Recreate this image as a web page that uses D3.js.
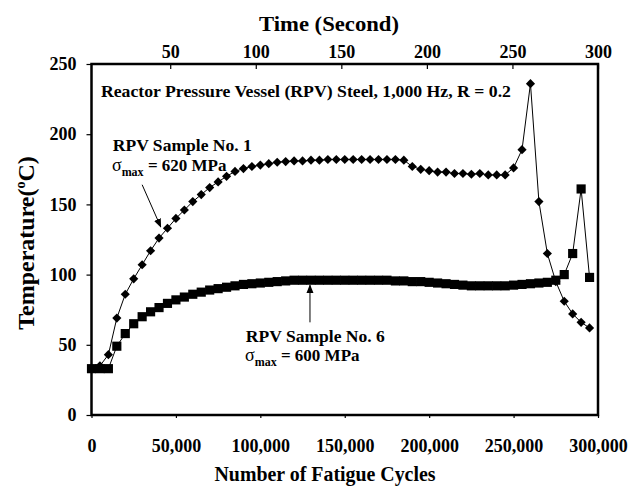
<!DOCTYPE html>
<html>
<head>
  <meta charset="UTF-8">
  <title>RPV Steel - Temperature vs Fatigue Cycles</title>
  <script src="https://cdn.jsdelivr.net/npm/d3@7"></script>
  <style>
    body { margin: 0; background: #fff; }
    svg { font-family: "Liberation Serif", "Times New Roman", serif; font-weight: bold; }
    .axis path { display: none; }
    .axis line { stroke: #000; stroke-width: 1.2; }
    .axis text { font-size: 18px; font-weight: bold; fill: #000; font-family: "Liberation Serif", serif; }
    .note { font-size: 17px; fill: #000; }
  </style>
</head>
<body>
  <svg width="632" height="488"></svg>

  <script>
    // fatigue cycles at each reading
    const cycles = [
      0, 5000, 10000, 15000, 20000, 25000, 30000, 35000, 40000, 45000,
      50000, 55000, 60000, 65000, 70000, 75000, 80000, 85000, 90000, 95000,
      100000, 105000, 110000, 115000, 120000, 125000, 130000, 135000, 140000, 145000,
      150000, 155000, 160000, 165000, 170000, 175000, 180000, 185000, 190000, 195000,
      200000, 205000, 210000, 215000, 220000, 225000, 230000, 235000, 240000, 245000,
      250000, 255000, 260000, 265000, 270000, 275000, 280000, 285000, 290000, 295000
    ];

    // RPV Sample No. 1, sigma max 620 MPa (diamonds)
    const sample1 = [
      33, 35, 43, 69, 86, 97, 107, 117, 126, 133,
      140, 146, 152, 157, 162, 166, 170, 173.5, 175.5, 177,
      178, 179, 180, 180.5, 181, 181, 181.5, 181.5, 182, 182,
      182, 182, 182, 182, 182, 182, 182, 181.5, 177, 175,
      174, 173, 173, 172, 172, 171.5, 172, 171, 171, 171,
      176, 189, 236, 152, 115, 95, 81, 72, 66, 62
    ];

    // RPV Sample No. 6, sigma max 600 MPa (squares)
    const sample6 = [
      33, 33, 33, 49, 58, 65, 70, 73.5, 76.5, 79.5,
      82, 84, 86, 87.5, 89, 90, 91, 92, 93, 93.5,
      94, 94.5, 95, 95.5, 96, 96, 96, 96, 96, 96,
      96, 96, 96, 96, 96, 96, 95.5, 95.5, 95, 95,
      94.5, 94, 93.5, 93, 92.5, 92, 92, 92, 92, 92,
      92.5, 93, 93.5, 94, 94.5, 96, 100, 115, 161, 98
    ];

    const cycleTicks = [0, 50000, 100000, 150000, 200000, 250000, 300000];
    const tempTicks = [0, 50, 100, 150, 200, 250];
    const timeTicks = [50, 100, 150, 200, 250, 300];

    const svg = d3.select("svg");
    const margin = { top: 64, right: 34, bottom: 73, left: 91.5 };
    const width = +svg.attr("width") - margin.left - margin.right;
    const height = +svg.attr("height") - margin.top - margin.bottom;

    const x = d3.scaleLinear().domain([0, 300000]).range([0, width]);
    const y = d3.scaleLinear().domain([0, 250]).range([height, 0]);
    // time axis on top does not start at zero on the left edge
    const xTime = d3.scaleLinear().domain([4, 300]).range([0, width]);

    const g = svg.append("g")
      .attr("transform", `translate(${margin.left},${margin.top})`);

    // axes
    g.append("g")
      .attr("class", "axis")
      .call(d3.axisLeft(y).tickValues(tempTicks).tickSize(5).tickPadding(10));

    g.append("g")
      .attr("class", "axis")
      .attr("transform", `translate(0,${height})`)
      .call(d3.axisBottom(x).tickValues(cycleTicks).tickSize(3).tickPadding(21)
        .tickFormat(d3.format(",")));

    g.append("g")
      .attr("class", "axis")
      .call(d3.axisTop(xTime).tickValues(timeTicks).tickSize(-5).tickPadding(6));

    // plot frame
    g.append("rect")
      .attr("width", width)
      .attr("height", height)
      .attr("fill", "none")
      .attr("stroke", "#000")
      .attr("stroke-width", 2.5);

    // series
    const line = d3.line()
      .x((d, i) => x(cycles[i]))
      .y(d => y(d));

    g.append("path").datum(sample1)
      .attr("d", line).attr("fill", "none").attr("stroke", "#000").attr("stroke-width", 1);
    g.append("path").datum(sample6)
      .attr("d", line).attr("fill", "none").attr("stroke", "#000").attr("stroke-width", 1);

    const square = d3.symbol(d3.symbolSquare);

    g.selectAll(".sq")
      .data(sample6)
      .enter().append("path")
      .attr("class", "sq")
      .attr("d", square.size(84)())
      .attr("transform", (d, i) => `translate(${x(cycles[i])},${y(d)})`)
      .attr("fill", "#000");

    g.selectAll(".dia")
      .data(sample1)
      .enter().append("path")
      .attr("class", "dia")
      .attr("d", square.size(42)())
      .attr("transform", (d, i) => `translate(${x(cycles[i])},${y(d)}) rotate(45)`)
      .attr("fill", "#000");

    // arrows
    svg.append("defs").append("marker")
      .attr("id", "head")
      .attr("viewBox", "0 0 10 10")
      .attr("refX", 9).attr("refY", 5)
      .attr("markerWidth", 9).attr("markerHeight", 9)
      .attr("markerUnits", "userSpaceOnUse")
      .attr("orient", "auto")
      .append("path").attr("d", "M0,1L10,5L0,9Z").attr("fill", "#000");

    g.append("line")
      .attr("x1", x(30000)).attr("y1", y(164))
      .attr("x2", x(41000)).attr("y2", y(134))
      .attr("stroke", "#000").attr("stroke-width", 1)
      .attr("marker-end", "url(#head)");

    g.append("line")
      .attr("x1", x(129400)).attr("y1", y(66))
      .attr("x2", x(129400)).attr("y2", y(92.5))
      .attr("stroke", "#000").attr("stroke-width", 1)
      .attr("marker-end", "url(#head)");

    // notes
    g.append("text").attr("class", "note")
      .attr("x", x(5600)).attr("y", y(226.5))
      .attr("textLength", 410).attr("lengthAdjust", "spacingAndGlyphs")
      .text("Reactor Pressure Vessel (RPV) Steel, 1,000 Hz, R = 0.2");

    function sampleNote(cx, t1, t2, title, stress) {
      g.append("text").attr("class", "note")
        .attr("x", x(cx)).attr("y", y(t1))
        .attr("textLength", 139).attr("lengthAdjust", "spacingAndGlyphs")
        .text(title);
      const s = g.append("text").attr("class", "note")
        .attr("x", x(cx - 500)).attr("y", y(t2));
      s.append("tspan").style("font-weight", "normal").style("font-size", "18px").text("σ");
      s.append("tspan").attr("dy", 5).style("font-size", "12px").text("max");
      s.append("tspan").attr("dy", -5).text(" = " + stress);
    }
    sampleNote(12600, 188, 173.5, "RPV Sample No. 1", "620 MPa");
    sampleNote(91400, 52, 38.5, "RPV Sample No. 6", "600 MPa");

    // titles
    svg.append("text")
      .attr("x", 329).attr("y", 31)
      .attr("text-anchor", "middle")
      .attr("textLength", 140).attr("lengthAdjust", "spacingAndGlyphs")
      .style("font-size", "21px")
      .text("Time (Second)");

    svg.append("text")
      .attr("x", 325).attr("y", 481)
      .attr("text-anchor", "middle")
      .attr("textLength", 221).attr("lengthAdjust", "spacingAndGlyphs")
      .style("font-size", "21px")
      .text("Number of Fatigue Cycles");

    const yt = svg.append("text")
      .attr("transform", `translate(34,243) rotate(-90)`)
      .attr("text-anchor", "middle")
      .style("font-size", "24px");
    yt.append("tspan").text("Temperature(");
    yt.append("tspan").attr("dy", -9).style("font-size", "14px").text("o");
    yt.append("tspan").attr("dy", 9).text("C)");
  </script>
</body>
</html>
